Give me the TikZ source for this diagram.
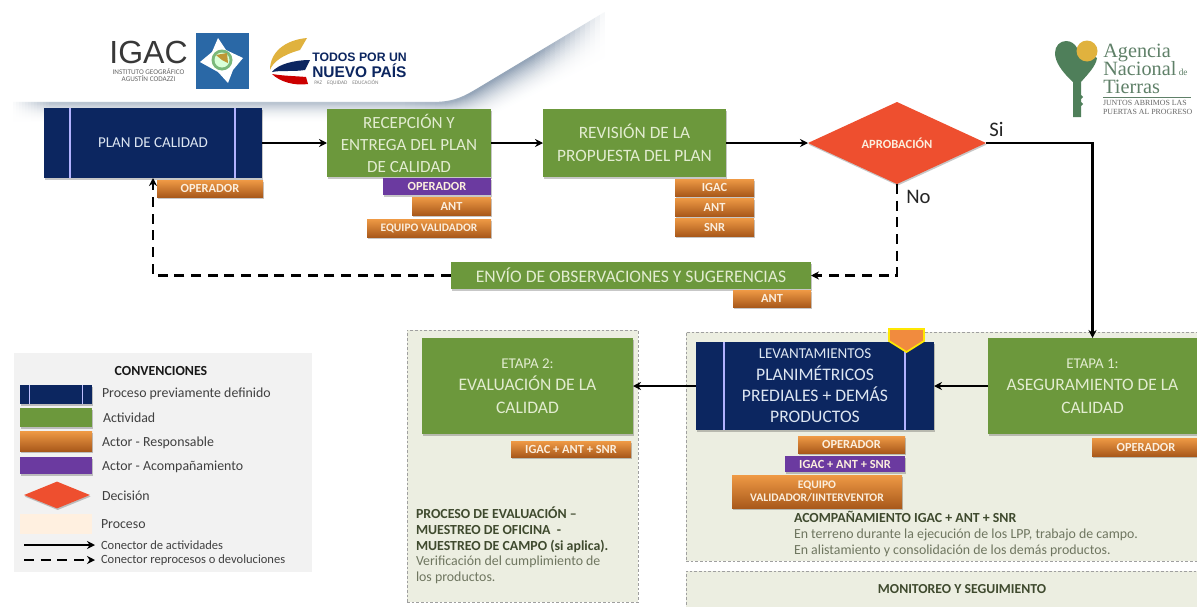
\documentclass[tikz,border=0pt]{standalone}
\usepackage{fontspec}
\setmainfont{Carlito}
\newfontfamily\serifl{Liberation Serif}
\newfontfamily\arialf{Liberation Sans}
\usetikzlibrary{shapes.geometric,shadows,arrows.meta}
\definecolor{navy}{HTML}{0C2660}
\definecolor{grn}{HTML}{6C983C}
\definecolor{orgT}{HTML}{EF9A45}
\definecolor{orgB}{HTML}{A9591B}
\definecolor{purp}{HTML}{6B3AA0}
\definecolor{decis}{HTML}{EE4F2F}
\definecolor{panel}{HTML}{ECEEE1}
\definecolor{bodygr}{HTML}{6F7660}
\definecolor{boldgr}{HTML}{3F4A2E}
\definecolor{leggr}{HTML}{F2F2F2}
\definecolor{keygr}{HTML}{4F7F5A}
\definecolor{keytx}{HTML}{5F8068}
\definecolor{gold}{HTML}{E0B23E}
\definecolor{swoo}{HTML}{96A6B9}
\definecolor{blsq}{HTML}{2A68A6}
\definecolor{grtxt}{HTML}{E2ECD0}
\definecolor{nvtxt}{HTML}{DDE6F2}
\definecolor{ortxt}{HTML}{FBEEDD}
\newcommand{\fsz}[2]{\fontsize{#1pt}{#2pt}\selectfont}
\newcommand{\bx}[7]{\node[#6,minimum width={(#4-#2)*0.75pt},minimum height={(#5-#3)*0.75pt}] (#1) at ({(#2+#4)/2},{(#3+#5)/2}) {#7};}
\tikzset{
  x=0.75pt,y=-0.75pt,
  base/.style={rectangle,inner sep=0pt,outer sep=0pt,align=center},
  softshadow/.style={drop shadow={shadow xshift=0.5pt,shadow yshift=-1.2pt,opacity=.22,fill=black}},
  procbox/.style={base,fill=navy,text=nvtxt,softshadow},
  actbox/.style={base,fill=grn,text=grtxt,softshadow},
  orgbox/.style={base,top color=orgT,bottom color=orgB,text=ortxt,font=\fsz{9.3}{11}\bfseries,softshadow},
  purbox/.style={base,fill=purp,text=ortxt,font=\fsz{9.3}{11}\bfseries,softshadow},
  flow/.style={line width=1.9pt,black,-{Stealth[length=6pt,width=6pt]}},
  backflow/.style={flow,dash pattern=on 7.5pt off 5pt},
  innerline/.style={line width=0.9pt,white!70!blue},
  panelbox/.style={base,fill=panel,draw=gray!75,line width=0.7pt,dash pattern=on 2pt off 1.5pt},
  lbl/.style={inner sep=0pt,outer sep=0pt,anchor=west,text=black!75,font=\fsz{10.4}{12}},
  para/.style={inner sep=0pt,outer sep=0pt,anchor=north west,align=left}
}
\begin{document}
\begin{tikzpicture}
\useasboundingbox (0,0) rectangle (1197,607);
\clip (0,0) rectangle (1197,607);
\fill[white] (0,0) rectangle (1197,607);
% swoosh
\foreach \i in {24,23,...,0}{
  \pgfmathsetmacro{\m}{100*(1-\i/24)^2}
  \draw[line width=1.6pt,color=swoo!\m!white]
    (0,{103+\i*0.8}) -- ({433+\i*0.4},{103+\i*0.8}) .. controls ({455+\i*0.4},{103+\i*0.8}) and ({465+\i*0.5},{97+\i}) .. ({480+\i*0.5},{88+\i*1.2}) -- ({605+\i*0.5},{13+\i*1.7});
}
% the swoosh fades out at both of its ends and is paler along the flat part
\fill[white,opacity=.35] (10,95) rectangle (400,140);
\foreach \x in {400,405,...,470}{
  \pgfmathsetmacro{\op}{.35*(1-(\x-400)/75)}
  \fill[white,opacity=\op] (\x,95) rectangle ({\x+5},140);
}
\foreach \x in {530,535,...,600}{
  \pgfmathsetmacro{\op}{((\x-530)/75)^1.2}
  \fill[white,opacity=\op] (\x,0) rectangle ({\x+5},125);
}
\fill[white] (605,0) rectangle (660,125);
\fill[white] (0,95) rectangle (10,140);
\foreach \x in {10,13,...,46}{
  \pgfmathsetmacro{\op}{1-(\x-10)/39}
  \fill[white,opacity=\op] (\x,95) rectangle ({\x+3},140);
}
% panels
\bx{pA}{407}{330}{638}{602}{panelbox}{}
\bx{pB}{686}{332}{1215}{561}{panelbox}{}
\bx{pC}{686}{571}{1215}{630}{panelbox}{}
% top row
\bx{plan}{44}{108}{262}{178}{procbox,font=\fsz{11.3}{13}}{PLAN DE CALIDAD}
\draw[innerline] (70,108) -- (70,178) (235,108) -- (235,178);
\bx{opA}{157}{180}{263}{197}{orgbox}{OPERADOR}
\bx{rec}{327}{109}{491}{177}{actbox,font=\fsz{12.8}{16.5}}{RECEPCIÓN Y\\ENTREGA DEL PLAN\\DE CALIDAD}
\bx{opB}{383}{178}{491}{195}{purbox}{OPERADOR}
\bx{antB}{412}{197}{491}{215}{orgbox}{ANT}
\bx{eqB}{367}{219}{491}{237}{orgbox,font=\fsz{8.6}{10}\bfseries}{EQUIPO VALIDADOR}
\bx{rev}{543}{109}{726}{177}{actbox,font=\fsz{13}{17}}{REVISIÓN DE LA\\PROPUESTA DEL PLAN}
\bx{igC}{675}{179}{754}{196}{orgbox}{IGAC}
\bx{antC}{675}{198}{754}{216}{orgbox}{ANT}
\bx{snC}{675}{218}{754}{236}{orgbox}{SNR}
\node[diamond,aspect=2.2,inner sep=0pt,outer sep=0pt,fill=decis,text=ortxt,font=\fsz{9.4}{11}\bfseries,minimum width=178*0.75pt,minimum height=82*0.75pt,softshadow] (dia) at (897,143) {APROBACIÓN};
\node[inner sep=0pt,anchor=west,font=\fsz{15.5}{17},text=black!85] (si) at (989,129) {Si};
\node[inner sep=0pt,anchor=west,font=\fsz{15.5}{17},text=black!85] (no) at (906,197) {No};
% envio
\bx{env}{451}{262}{811}{289}{actbox,font=\fsz{13.2}{15}}{ENVÍO DE OBSERVACIONES Y SUGERENCIAS}
\bx{antE}{733}{290}{811}{307}{orgbox}{ANT}
% lower row
\bx{et2}{422}{338}{633}{434}{actbox,font=\fsz{13.2}{17}}{{\fsz{11.2}{17}ETAPA 2:}\\EVALUACIÓN DE LA\\CALIDAD}
\bx{orE}{511}{441}{631}{457}{orgbox}{IGAC + ANT + SNR}
\bx{lev}{696}{342}{934}{430}{procbox,font=\fsz{13.2}{16}}{{\fsz{11.3}{16}LEVANTAMIENTOS}\\PLANIMÉTRICOS\\PREDIALES + DEMÁS\\PRODUCTOS}
\draw[innerline] (724,342) -- (724,430) (905,350) -- (905,430);
\fill[fill=orgT!90!red,draw=yellow!90!orange,line width=1.3pt] (889,329) -- (924,329) -- (924,341) -- (906.5,352) -- (889,341) -- cycle;
\bx{et1}{988}{338}{1215}{434}{actbox}{}
\node[align=center,inner sep=0pt,text=grtxt,font=\fsz{13.1}{17}] (et1t) at (1092.5,386) {{\fsz{11.2}{17}ETAPA 1:}\\ASEGURAMIENTO DE LA\\CALIDAD};
\bx{opF}{1092}{438}{1215}{456}{orgbox}{}
\node[inner sep=0pt,text=ortxt,font=\fsz{9.3}{11}\bfseries] (opFt) at (1146,447) {OPERADOR};
\bx{opL}{798}{436}{905}{453}{orgbox}{OPERADOR}
\bx{puL}{785}{456}{905}{472}{purbox}{IGAC + ANT + SNR}
\bx{eqL}{732}{475}{902}{508}{orgbox,font=\fsz{8.7}{10.3}\bfseries}{EQUIPO\\VALIDADOR/IINTERVENTOR}
% body texts
\node[para,text=bodygr,font=\fsz{10.4}{11.8}] (tA) at (416,507) {{\color{boldgr}\bfseries PROCESO DE EVALUACIÓN –}\\{\color{boldgr}\bfseries MUESTREO DE OFICINA\ \ -}\\{\color{boldgr}\bfseries MUESTREO DE CAMPO (si aplica).}\\Verificación del cumplimiento de\\los productos.};
\node[para,text=bodygr,font=\fsz{10.4}{12}] (tB) at (794,511) {{\color{boldgr}\bfseries ACOMPAÑAMIENTO IGAC + ANT + SNR}\\En terreno durante la ejecución de los LPP, trabajo de campo.\\En alistamiento y consolidación de los demás productos.};
\node[inner sep=0pt,text=boldgr,font=\fsz{10.3}{12}\bfseries] (tC) at (962,589) {MONITOREO Y SEGUIMIENTO};
% connectors
\coordinate (planin) at (153,178);
\draw[flow] (plan.east) -- (rec.west);
\draw[flow] (rec.east) -- (rev.west);
\draw[flow] (rev.east) -- (dia.west);
\draw[flow] (dia.east) -| (et1t.north |- et1.north);
\draw[flow] (et1.west) -- (lev.east);
\draw[flow] (lev.west) -- (et2.east);
\draw[backflow] (dia.south) |- (env.east);
\draw[backflow] (env.west) -| (planin);
% legend
\bx{leg}{14}{353}{312}{572}{base,fill=leggr}{}
\node[inner sep=0pt,text=black!90,font=\fsz{10.4}{12}\bfseries] (lt) at (161,371) {CONVENCIONES};
\bx{l1}{20}{385}{92}{404}{procbox}{}
\draw[line width=.6pt,white!75!blue] (29,385) -- (29,404) (82,385) -- (82,404);
\bx{l2}{20}{408}{92}{427}{actbox}{}
\bx{l3}{20}{431}{92}{451}{orgbox}{}
\bx{l4}{20}{457}{92}{474}{purbox}{}
\node[diamond,aspect=2.4,inner sep=0pt,fill=decis,minimum width=66*0.75pt,minimum height=27*0.75pt,softshadow] (l5) at (57,495) {};
\bx{l6}{20}{514}{92}{534}{base,fill=orange!12!white}{}
\node[lbl] (t1) at (102,394) {Proceso previamente definido};
\node[lbl] (t2) at (103,418) {Actividad};
\node[lbl] (t3) at (102,443) {Actor - Responsable};
\node[lbl] (t4) at (102,467) {Actor - Acompañamiento};
\node[lbl] (t5) at (102,496) {Decisión};
\node[lbl] (t6) at (101,524) {Proceso};
\node[lbl,font=\fsz{9.4}{11}] (t7) at (101,545) {Conector de actividades};
\node[lbl,font=\fsz{9.4}{11}] (t8) at (101,560) {Conector reprocesos o devoluciones};
\coordinate (a1) at (24,545); \coordinate (a2) at (95,545);
\coordinate (b1) at (24,560); \coordinate (b2) at (95,560);
\draw[flow,line width=1.5pt] (a1) -- (a2);
\draw[backflow,line width=1.5pt] (b1) -- (b2);
% IGAC logo
\node[inner sep=0pt,text=black!78,font=\arialf\fsz{24}{24}] (igac) at (148.5,52) {IGAC};
\node[inner sep=0pt,text=black!60,font=\fsz{5.4}{5.6},align=center] (igac2) at (148.5,75) {INSTITUTO GEOGRÁFICO\\AGUSTÍN CODAZZI};
\fill[blsq] (196,33) rectangle (249,89);
\fill[white] (218,38) -- (226,50) -- (243,58) -- (233,70) -- (228,83) -- (218,72) -- (200,62) -- (212,52) -- cycle;
\fill[green!30!gray!80!white] (222,60) circle (10.5);
\fill[white!85!green] (222,60) circle (7.5);
\fill[gold!85!black] (222,60) -- (216,55) -- (227,53) -- (228,63) -- cycle;
% Todos por un nuevo pais
\fill[gold] (307,38) .. controls (285,40) and (270,52) .. (270,70) .. controls (273,62) and (282,55) .. (300,50) -- cycle;
\fill[navy] (310,60) .. controls (295,60) and (278,64) .. (272,72) .. controls (282,70) and (292,72) .. (305,70) -- cycle;
\fill[red!80!black] (308,84) .. controls (295,86) and (280,82) .. (272,74) .. controls (284,76) and (295,76) .. (306,77) -- cycle;
\node[inner sep=0pt,anchor=west,text=navy,font=\arialf\fsz{9.2}{10}\bfseries] (todos) at (312,57) {TODOS POR UN};
\node[inner sep=0pt,anchor=west,text=navy,font=\arialf\fsz{11.6}{12}\bfseries] (nuevo) at (312,71) {NUEVO PAÍS};
\node[inner sep=0pt,anchor=west,text=black!50,font=\fsz{4}{4}] (paz) at (314,82.5) {PAZ\ \ \ \ EQUIDAD\ \ \ \ EDUCACIÓN};
% ANT logo
\fill[keygr] (1073,117) -- (1073,82) .. controls (1062,72) and (1055,62) .. (1055,53) .. controls (1055,46) and (1060,41) .. (1066,41) .. controls (1071,41) and (1075,44) .. (1077,48) -- (1097,58) .. controls (1096,66) and (1088,74) .. (1081,82) -- (1081,95) -- (1083,97) -- (1081,99) -- (1081,102) -- (1083,104) -- (1081,106) -- (1081,117) -- cycle;
\fill[gold] (1087,51) circle (10.5);
\node[inner sep=0pt,anchor=base west,text=keytx,font=\serifl\fsz{15.2}{17}] (ag) at (1103,57) {Agencia};
\node[inner sep=0pt,anchor=base west,text=keytx,font=\serifl\fsz{15.2}{17}] (na) at (1103,75) {Nacional{\fsz{7}{8} de}};
\node[inner sep=0pt,anchor=base west,text=keytx,font=\serifl\fsz{15.2}{17}] (ti) at (1103,93) {Tierras};
\draw[keytx,line width=.7pt] (1103,97.5) -- (1191,97.5);
\node[para,text=black!60,font=\serifl\fsz{5.9}{6.7}] (ju) at (1103,100) {JUNTOS ABRIMOS LAS\\PUERTAS AL PROGRESO};
\end{tikzpicture}
\end{document}
